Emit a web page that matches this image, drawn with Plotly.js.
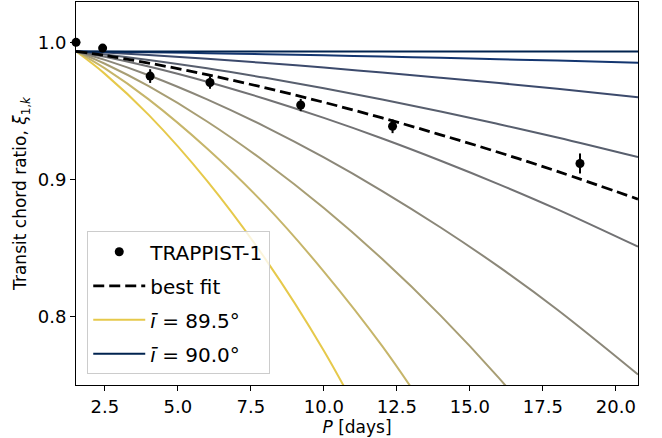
<!DOCTYPE html>
<html><head><meta charset="utf-8">
<script src="https://cdn.plot.ly/plotly-3.0.1.min.js"></script>
<style>html,body{margin:0;padding:0;background:#fff}#chart{width:662px;height:438px}</style>
</head><body><div id="chart"></div>
<script>
// Orbital period grid (days) at which the model curves were read
const periodGrid = [1.51, 2.5, 4, 6, 8, 10, 12, 14, 16, 18, 20.76];

// Model curves, mean inclination from 89.5 to 90.0 deg
const inclinations = [89.5, 89.5625, 89.625, 89.6875, 89.75, 89.8125, 89.875, 89.9375, 90.0];
const xi_89_5000 = [0.9934, 0.9770, 0.9471, 0.8990, 0.8420, 0.7752, 0.6967];
const xi_89_5625 = [0.9934, 0.9810, 0.9584, 0.9226, 0.8813, 0.8329, 0.7785, 0.7164];
const xi_89_6250 = [0.9934, 0.9844, 0.9680, 0.9423, 0.9126, 0.8792, 0.8420, 0.8008, 0.7552, 0.7045];
const xi_89_6875 = [0.9934, 0.9872, 0.9760, 0.9584, 0.9384, 0.9161, 0.8916, 0.8650, 0.8363, 0.8051, 0.7579];
const xi_89_7500 = [0.9934, 0.9895, 0.9824, 0.9713, 0.9587, 0.9449, 0.9299, 0.9137, 0.8965, 0.8782, 0.8510];
const xi_89_8125 = [0.9934, 0.9912, 0.9872, 0.9811, 0.9741, 0.9665, 0.9583, 0.9496, 0.9403, 0.9306, 0.9163];
const xi_89_8750 = [0.9934, 0.9925, 0.9907, 0.9880, 0.9849, 0.9816, 0.9780, 0.9742, 0.9703, 0.9661, 0.9600];
const xi_89_9375 = [0.9934, 0.9932, 0.9928, 0.9921, 0.9913, 0.9905, 0.9896, 0.9887, 0.9877, 0.9867, 0.9852];
const xi_90_0000 = [0.9934, 0.9934, 0.9934, 0.9934, 0.9934, 0.9934, 0.9934, 0.9934, 0.9934, 0.9934, 0.9934];
const modelCurves = [xi_89_5000, xi_89_5625, xi_89_6250, xi_89_6875, xi_89_7500, xi_89_8125, xi_89_8750, xi_89_9375, xi_90_0000];

// Best fit
const bestFit = [0.9934, 0.9904, 0.9849, 0.9764, 0.9668, 0.9563, 0.9449, 0.9326, 0.9197, 0.9059, 0.8857];

// TRAPPIST-1 planets b..h
const planetPeriods = [1.511, 2.422, 4.050, 6.100, 9.207, 12.353, 18.773];
const planetChord = [1.000, 0.9958, 0.9754, 0.9707, 0.9543, 0.9388, 0.9117];
const planetErr = [0.002, 0.003, 0.005, 0.0045, 0.0045, 0.005, 0.0073];

const curveColors = ["#e6c94b", "#c6b56a", "#a89e74", "#8b8779", "#727274", "#585f6e", "#3c4a6c", "#143670", "#00234f"];

const traces = [];
modelCurves.forEach((vals, k) => {
  const isEdge = (k === 0 || k === modelCurves.length - 1);
  traces.push({
    x: periodGrid.slice(0, vals.length), y: vals,
    type: 'scatter', mode: 'lines',
    line: {color: curveColors[k], width: 2, shape: 'spline', smoothing: 1},
    name: '<i>ī</i> = ' + inclinations[k].toFixed(1) + '°',
    showlegend: isEdge,
    legendgroup: 'g' + k,
    legendrank: k === 0 ? 3 : 4,
    hoverinfo: 'skip'
  });
});
traces.push({
  x: periodGrid, y: bestFit, type: 'scatter', mode: 'lines',
  line: {color: '#000', width: 2.8, dash: '11px,5px', shape: 'spline'},
  name: 'best fit', legendrank: 2, legendgroup: 'fit'
});
traces.push({
  x: planetPeriods, y: planetChord, type: 'scatter', mode: 'markers',
  marker: {color: '#000', size: 9},
  error_y: {type: 'data', array: planetErr, visible: true, color: '#000', thickness: 2, width: 0},
  name: 'TRAPPIST-1', legendrank: 1, legendgroup: 'data', cliponaxis: false
});

const layout = {
  width: 662, height: 438,
  margin: {l: 76, r: 24, t: 2, b: 53},
  paper_bgcolor: '#fff', plot_bgcolor: '#fff',
  font: {family: 'DejaVu Sans', color: '#000', size: 17},
  showlegend: true,
  legend: {
    x: 0.02, y: 0.028, xanchor: 'left', yanchor: 'bottom',
    bgcolor: 'rgba(255,255,255,0.8)', bordercolor: '#cccccc', borderwidth: 1,
    font: {size: 20}, itemwidth: 52, traceorder: 'grouped', tracegroupgap: 5
  },
  xaxis: {
    range: [1.51, 20.76], tickmode: 'array',
    tickvals: [2.5, 5, 7.5, 10, 12.5, 15, 17.5, 20],
    ticktext: ['2.5', '5.0', '7.5', '10.0', '12.5', '15.0', '17.5', '20.0'],
    ticks: 'outside', ticklen: 5, tickwidth: 1, tickcolor: '#000',
    showline: true, linecolor: '#000', linewidth: 1, mirror: true,
    showgrid: false, zeroline: false,
    tickfont: {size: 18},
    title: {text: '<i>P</i> [days]', font: {size: 17}, standoff: 4}
  },
  yaxis: {
    range: [0.7502, 1.0294], tickmode: 'array',
    tickvals: [0.8, 0.9, 1.0], ticktext: ['0.8', '0.9', '1.0'],
    ticks: 'outside', ticklen: 5, tickwidth: 1, tickcolor: '#000',
    showline: true, linecolor: '#000', linewidth: 1, mirror: true,
    showgrid: false, zeroline: false,
    tickfont: {size: 18},
    title: {text: 'Transit chord ratio, <i>ξ</i><sub>1,<i>k</i></sub>', font: {size: 17}, standoff: 6}
  }
};
Plotly.newPlot('chart', traces, layout, {displayModeBar: false, staticPlot: true});
</script>
</body></html>
